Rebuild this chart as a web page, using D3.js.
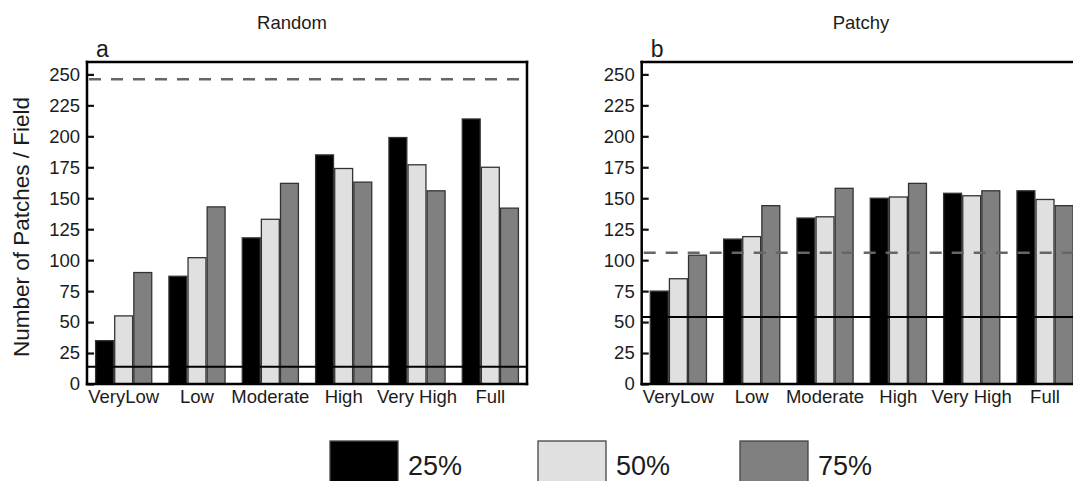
<!DOCTYPE html>
<html>
<head>
<meta charset="utf-8">
<script src="https://cdn.jsdelivr.net/npm/d3@7"></script>
<style>
  body { margin: 0; background: #fff; }
  svg { display: block; }
  text { font-family: "Liberation Sans", Arial, sans-serif; fill: #1c1c1c; }
</style>
</head>
<body>
<svg id="chart" width="1073" height="481"></svg>
<script>
// Landscape classes along the x axis and habitat cover levels in each group
const categories = ["VeryLow", "Low", "Moderate", "High", "Very High", "Full"];
const coverLevels = ["25%", "50%", "75%"];
const yTicks = [0, 25, 50, 75, 100, 125, 150, 175, 200, 225, 250];

// Number of patches per field, random arrangement
const random25 = [35, 87, 118, 185, 199, 214];
const random50 = [55, 102, 133, 174, 177, 175];
const random75 = [90, 143, 162, 163, 156, 142];
// Number of patches per field, patchy arrangement
const patchy25 = [75, 117, 134, 150, 154, 156];
const patchy50 = [85, 119, 135, 151, 152, 149];
const patchy75 = [104, 144, 158, 162, 156, 144];

// Reference levels drawn across each panel
const randomDashed = 246, randomSolid = 14;
const patchyDashed = 106, patchySolid = 54;

const fills = { "25%": "#000000", "50%": "#e0e0e0", "75%": "#808080" };

const svg = d3.select("#chart");
const plotW = 440;
const y = d3.scaleLinear().domain([0, 260]).range([384, 62]);
const x0 = d3.scaleBand().domain(categories).range([0, plotW])
  .paddingInner(0.218).paddingOuter(0.109);
const x1 = d3.scaleBand().domain(coverLevels).range([0, x0.bandwidth()]);

function panel(left, title, titleX, letter, series, dashedVal, solidVal, drawRight) {
  const g = svg.append("g").attr("transform", `translate(${left},0)`);

  const rows = categories.map((c, i) => ({
    cat: c,
    vals: coverLevels.map((k, j) => ({ key: k, v: series[j][i] }))
  }));

  g.selectAll("g.grp").data(rows).join("g")
    .attr("class", "grp")
    .attr("transform", d => `translate(${x0(d.cat)},0)`)
    .selectAll("rect").data(d => d.vals).join("rect")
      .attr("x", d => x1(d.key) + 0.6)
      .attr("width", x1.bandwidth() - 1.2)
      .attr("y", d => y(d.v))
      .attr("height", d => y(0) - y(d.v))
      .attr("fill", d => fills[d.key])
      .attr("stroke", "#333")
      .attr("stroke-width", 1.3);

  // reference lines
  g.append("line")
    .attr("x1", 0).attr("x2", plotW)
    .attr("y1", y(solidVal)).attr("y2", y(solidVal))
    .attr("stroke", "#000").attr("stroke-width", 2);
  g.append("line")
    .attr("x1", 2).attr("x2", plotW)
    .attr("y1", y(dashedVal)).attr("y2", y(dashedVal))
    .attr("stroke", "#666").attr("stroke-width", 2.5)
    .attr("stroke-dasharray", "12 10");

  // y axis with inward ticks
  const ax = g.append("g").call(
    d3.axisLeft(y).tickValues(yTicks).tickSize(-7).tickPadding(7)
  );
  ax.select(".domain").remove();
  ax.selectAll(".tick line").attr("stroke", "#111").attr("stroke-width", 2.2);
  ax.selectAll(".tick text")
    .style("font-size", "18.5px")
    .attr("fill", "#1c1c1c");

  // frame
  const frame = [
    [0, y.range()[1], 0, y(0)],
    [0, y(0), plotW, y(0)],
    [0, y.range()[1], plotW, y.range()[1]]
  ];
  if (drawRight) frame.push([plotW, y.range()[1], plotW, y(0)]);
  g.selectAll("line.frame").data(frame).join("line")
    .attr("class", "frame")
    .attr("x1", d => d[0]).attr("y1", d => d[1])
    .attr("x2", d => d[2]).attr("y2", d => d[3])
    .attr("stroke", "#000").attr("stroke-width", 2.5)
    .attr("stroke-linecap", "square");

  // category labels
  g.selectAll("text.cat").data(categories).join("text")
    .attr("class", "cat")
    .attr("x", d => x0(d) + x0.bandwidth() / 2)
    .attr("y", 403)
    .attr("text-anchor", "middle")
    .style("font-size", "18.5px")
    .text(d => d);

  g.append("text").attr("x", 9).attr("y", 57)
    .style("font-size", "23px").text(letter);

  svg.append("text").attr("x", titleX).attr("y", 29)
    .attr("text-anchor", "middle")
    .style("font-size", "18.5px").text(title);
}

panel(87, "Random", 292, "a", [random25, random50, random75], randomDashed, randomSolid, true);
panel(641.7, "Patchy", 861, "b", [patchy25, patchy50, patchy75], patchyDashed, patchySolid, false);

// y axis title
svg.append("text")
  .attr("transform", "translate(29,227) rotate(-90)")
  .attr("text-anchor", "middle")
  .style("font-size", "22.5px")
  .text("Number of Patches / Field");

// legend
const legendX = [330, 538, 740];
const lg = svg.selectAll("g.legend").data(coverLevels).join("g")
  .attr("class", "legend")
  .attr("transform", (d, i) => `translate(${legendX[i]},441)`);
lg.append("rect")
  .attr("width", 68).attr("height", 42)
  .attr("fill", d => fills[d])
  .attr("stroke", "#444").attr("stroke-width", 1.3);
lg.append("text")
  .attr("x", 78).attr("y", 34)
  .style("font-size", "27px")
  .text(d => d);
</script>
</body>
</html>
